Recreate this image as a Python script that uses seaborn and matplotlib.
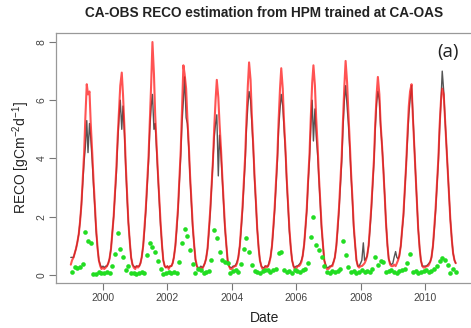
import numpy as np
import pandas as pd
import matplotlib
matplotlib.use("Agg")
import matplotlib.pyplot as plt
import matplotlib.dates as mdates
import seaborn as sns

# Semi-monthly RECO (gC m-2 d-1), one row per year 1999..2010 (1st and 15th of each month)
reco_model = [
    0.35, 0.5, 0.6, 0.75, 0.9, 1.1, 1.4, 1.8, 2.4, 3.2, 4.2, 5.4, 6.55, 6.2, 6.3, 5.2, 4.2, 3.3, 2.4, 1.6, 0.9, 0.5, 0.3, 0.2,
    0.25, 0.2, 0.25, 0.3, 0.4, 0.55, 0.9, 1.4, 2.0, 2.8, 3.7, 4.7, 5.7, 6.5, 6.95, 6.2, 5.0, 3.8, 2.7, 1.8, 1.1, 0.6, 0.35, 0.25,
    0.2, 0.3, 0.25, 0.3, 0.4, 0.6, 1.0, 1.6, 2.3, 3.1, 4.1, 5.3, 6.6, 8.0, 6.9, 5.5, 4.4, 3.5, 2.6, 1.8, 1.0, 0.5, 0.3, 0.25,
    0.3, 0.2, 0.3, 0.3, 0.4, 0.6, 1.0, 1.6, 2.3, 3.2, 4.3, 5.6, 7.2, 6.9, 6.4, 5.4, 4.4, 3.4, 2.5, 1.7, 1.0, 0.55, 0.3, 0.2,
    0.2, 0.25, 0.2, 0.3, 0.4, 0.55, 0.9, 1.5, 2.2, 3.0, 3.9, 5.0, 6.0, 6.7, 6.1, 5.2, 4.3, 3.4, 2.5, 1.7, 1.0, 0.5, 0.3, 0.2,
    0.2, 0.25, 0.3, 0.3, 0.4, 0.6, 1.0, 1.6, 2.3, 3.1, 4.1, 5.3, 6.5, 7.3, 6.7, 5.5, 4.4, 3.4, 2.5, 1.6, 0.9, 0.5, 0.3, 0.2,
    0.2, 0.3, 0.25, 0.3, 0.4, 0.6, 1.0, 1.6, 2.3, 3.1, 4.1, 5.3, 6.4, 7.1, 6.4, 5.3, 4.3, 3.3, 2.4, 1.6, 0.9, 0.5, 0.3, 0.2,
    0.2, 0.3, 0.3, 0.35, 0.45, 0.65, 1.05, 1.6, 2.3, 3.2, 4.2, 5.4, 6.6, 7.2, 6.5, 5.4, 4.4, 3.4, 2.5, 1.7, 1.0, 0.5, 0.3, 0.2,
    0.2, 0.25, 0.3, 0.3, 0.45, 0.6, 1.0, 1.6, 2.3, 3.1, 4.1, 5.3, 6.5, 7.35, 6.6, 5.6, 4.5, 3.5, 2.6, 1.7, 1.0, 0.5, 0.3, 0.25,
    0.3, 0.3, 0.35, 0.4, 0.5, 0.65, 1.0, 1.6, 2.3, 3.1, 4.0, 5.2, 6.2, 6.8, 6.2, 5.2, 4.4, 3.6, 2.7, 1.8, 1.0, 0.55, 0.35, 0.3,
    0.3, 0.35, 0.3, 0.4, 0.5, 0.65, 1.0, 1.5, 2.1, 2.9, 3.8, 4.8, 5.8, 6.3, 6.55, 5.5, 4.4, 3.5, 2.5, 1.6, 0.9, 0.5, 0.3, 0.25,
    0.25, 0.3, 0.3, 0.35, 0.45, 0.6, 1.0, 1.6, 2.3, 3.1, 4.0, 5.1, 6.0, 6.4, 6.2, 5.4, 4.4, 3.6, 2.7, 1.9, 1.2, 0.75, 0.5, 0.4,
]

reco_obs = [
    0.6, 0.6, 0.6, 0.75, 0.9, 1.1, 1.4, 1.8, 2.4, 3.1, 3.9, 4.4, 5.3, 4.2, 5.2, 4.7, 3.9, 3.1, 2.3, 1.5, 0.9, 0.5, 0.35, 0.25,
    0.3, 0.25, 0.3, 0.3, 0.4, 0.55, 0.9, 1.4, 2.0, 2.7, 3.5, 4.5, 5.4, 6.0, 5.0, 5.8, 4.8, 3.7, 2.6, 1.8, 1.1, 0.6, 0.35, 0.3,
    0.25, 0.3, 0.3, 0.3, 0.4, 0.6, 1.0, 1.5, 2.2, 3.0, 3.9, 5.0, 5.8, 6.2, 5.0, 5.2, 4.2, 3.4, 2.5, 1.7, 1.0, 0.5, 0.3, 0.25,
    0.3, 0.25, 0.3, 0.3, 0.4, 0.6, 1.0, 1.5, 2.2, 3.1, 4.1, 5.2, 6.0, 6.8, 5.4, 5.2, 4.3, 3.3, 2.4, 1.6, 1.0, 0.5, 0.3, 0.25,
    0.25, 0.3, 0.25, 0.3, 0.4, 0.55, 0.9, 1.4, 2.1, 2.9, 3.8, 4.7, 5.2, 5.5, 3.4, 4.8, 4.1, 3.3, 2.4, 1.6, 1.0, 0.5, 0.3, 0.25,
    0.25, 0.3, 0.3, 0.35, 0.45, 0.6, 1.0, 1.5, 2.2, 3.0, 3.9, 5.0, 5.8, 6.3, 6.0, 5.2, 4.3, 3.3, 2.4, 1.6, 0.9, 0.5, 0.3, 0.25,
    0.25, 0.3, 0.3, 0.3, 0.45, 0.6, 1.0, 1.5, 2.2, 3.0, 3.9, 5.0, 5.7, 6.2, 5.8, 5.1, 4.2, 3.2, 2.3, 1.5, 0.9, 0.5, 0.3, 0.25,
    0.3, 0.3, 0.35, 0.4, 0.5, 0.65, 1.05, 1.6, 2.2, 3.1, 4.0, 5.1, 6.0, 4.6, 5.7, 4.8, 4.1, 3.3, 2.4, 1.6, 1.0, 0.5, 0.35, 0.25,
    0.25, 0.3, 0.3, 0.35, 0.45, 0.6, 1.0, 1.5, 2.2, 3.0, 3.9, 5.0, 6.0, 6.5, 5.8, 5.2, 4.3, 3.4, 2.5, 1.6, 1.0, 0.5, 0.3, 0.3,
    0.4, 0.5, 1.1, 0.5, 0.55, 0.65, 1.0, 1.5, 2.2, 3.0, 3.9, 5.0, 5.9, 6.3, 6.0, 5.1, 4.4, 3.7, 2.7, 1.8, 1.0, 0.55, 0.4, 0.35,
    0.4, 0.6, 0.8, 0.6, 0.55, 0.65, 1.0, 1.5, 2.0, 2.8, 3.7, 4.6, 5.5, 6.0, 6.5, 5.6, 4.4, 3.5, 2.5, 1.6, 0.9, 0.5, 0.3, 0.3,
    0.3, 0.3, 0.35, 0.4, 0.45, 0.6, 1.0, 1.5, 2.2, 3.0, 3.9, 5.0, 6.0, 7.0, 6.3, 5.4, 4.4, 3.6, 2.7, 1.9, 1.2, 0.75, 0.5, 0.4,
]

# Monthly absolute error, Jan..Dec for 1999..2010
abs_error = [
    0.11, 0.26, 0.23, 0.26, 0.36, 1.48, 1.15, 1.09, 0.02, 0.02, 0.10, 0.05,
    0.07, 0.10, 0.05, 0.29, 0.72, 1.44, 0.90, 0.60, 0.17, 0.29, 0.05, 0.06,
    0.04, 0.08, 0.10, 0.05, 0.69, 1.11, 0.95, 0.80, 0.48, 0.20, 0.04, 0.07,
    0.10, 0.08, 0.10, 0.08, 0.44, 1.09, 1.59, 1.34, 0.85, 0.37, 0.06, 0.20,
    0.18, 0.08, 0.10, 0.12, 0.52, 1.55, 1.26, 0.80, 0.52, 0.44, 0.40, 0.06,
    0.12, 0.15, 0.10, 0.37, 0.90, 1.26, 0.77, 0.34, 0.12, 0.10, 0.08, 0.12,
    0.15, 0.18, 0.10, 0.15, 0.20, 0.75, 0.80, 0.15, 0.10, 0.12, 0.08, 0.15,
    0.12, 0.10, 0.15, 0.20, 0.42, 1.30, 2.00, 1.03, 0.86, 0.60, 0.31, 0.10,
    0.08, 0.14, 0.10, 0.12, 0.20, 1.17, 0.67, 0.27, 0.09, 0.12, 0.08, 0.10,
    0.15, 0.10, 0.12, 0.10, 0.20, 0.60, 0.34, 0.46, 0.44, 0.09, 0.12, 0.15,
    0.10, 0.08, 0.12, 0.15, 0.20, 0.40, 0.71, 0.09, 0.12, 0.08, 0.10, 0.12,
    0.15, 0.10, 0.12, 0.20, 0.29, 0.49, 0.58, 0.52, 0.34, 0.06, 0.20, 0.10,
]

y_ticks = [0, 2, 4, 6, 8]
x_tick_years = [2000, 2002, 2004, 2006, 2008, 2010]

semi_dates = pd.date_range("1999-01-01", "2010-12-31", freq="SMS")
month_dates = pd.date_range("1999-01-01", periods=len(abs_error), freq="MS") + pd.Timedelta(days=14)

series = pd.DataFrame({"Date": semi_dates, "obs": reco_obs, "model": reco_model})
errors = pd.DataFrame({"Date": month_dates, "err": abs_error})

sns.set_style("white")
plt.rcParams["font.family"] = ["Liberation Sans", "DejaVu Sans"]
plt.rcParams["mathtext.fontset"] = "custom"
plt.rcParams["mathtext.rm"] = "Liberation Sans"
plt.rcParams["mathtext.it"] = "Liberation Sans:italic"

W, H = 471, 328
fig = plt.figure(figsize=(W / 100, H / 100), dpi=100)
ax = fig.add_axes([56 / W, (H - 283) / H, (473 - 56) / W, (283 - 33) / H])

sns.lineplot(data=series, x="Date", y="obs", ax=ax, color="#555555", linewidth=1.0)
sns.lineplot(data=series, x="Date", y="model", ax=ax, color="#ff1a1a", alpha=0.75, linewidth=1.5)
sns.scatterplot(data=errors, x="Date", y="err", ax=ax, color="#22dd22", s=11, linewidth=0, zorder=5)

origin = pd.Timestamp("2000-01-01")
ax.set_xlim(origin - pd.Timedelta(days=533), origin + pd.Timedelta(days=4197))
ax.set_ylim(-0.28, 8.31)

ax.set_xticks([pd.Timestamp(f"{y}-01-01") for y in x_tick_years])
ax.xaxis.set_major_formatter(mdates.DateFormatter("%Y"))
ax.set_yticks(y_ticks)
ax.set_yticklabels([str(v) for v in y_ticks], rotation=90, va="center")

ax.tick_params(axis="both", direction="out", length=5, width=0.8, color="#777777",
               labelsize=7.5, labelcolor="#444444", pad=2, bottom=True, left=True)
for side in ["left", "bottom", "top", "right"]:
    ax.spines[side].set_color("#999999")
    ax.spines[side].set_linewidth(0.9)

ax.set_xlabel("Date", fontsize=10, color="#222222", labelpad=6)
ax.set_ylabel(r"RECO [gCm$^{-2}$d$^{-1}$]", fontsize=10, color="#222222", labelpad=3)
fig.text(264 / W, 1 - 13 / H, "CA-OBS RECO estimation from HPM trained at CA-OAS",
         ha="center", va="center", fontsize=9.8, fontweight="bold", color="#222222")
fig.text(448 / W, 1 - 52 / H, "(a)", ha="center", va="center", fontsize=13.5,
         color="#222222", family=["Open Sans", "DejaVu Sans"])

fig.savefig("out.png", dpi=100)
